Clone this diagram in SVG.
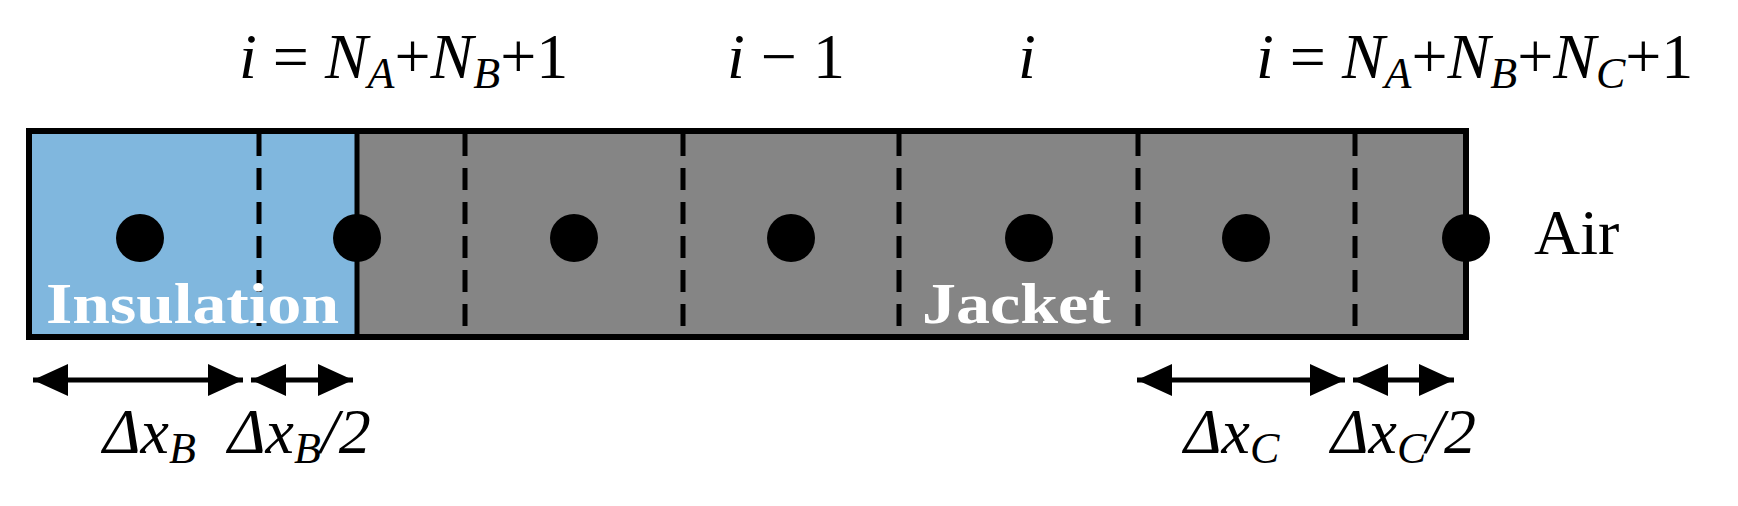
<svg xmlns="http://www.w3.org/2000/svg" width="1738" height="506" viewBox="0 0 1738 506">
<style>
text{font-family:"Liberation Serif","Times New Roman",Times,serif}
.t{font-size:64px;fill:#000}
.it{font-style:italic}
.sub{font-size:44px;font-style:italic}
.lbl{font-weight:bold;font-size:56px;fill:#fff}
.dash{stroke:#000;stroke-width:5;stroke-dasharray:22,12}
.ar{stroke:#000;stroke-width:5;fill:none}
</style>
<defs>
<marker id="ah" markerWidth="8" markerHeight="8" refX="7" refY="4" orient="auto-start-reverse" markerUnits="strokeWidth">
<path d="M0,0.8 L7,4 L0,7.2 Z" fill="#000"/>
</marker>
</defs>
<g id="insulation"><rect x="29" y="131" width="328" height="206" fill="#80b7de"/></g>
<g id="jacket"><rect x="357" y="131" width="1109" height="206" fill="#858585"/></g>
<g id="grid">
<line class="dash" x1="259" y1="134" x2="259" y2="334"/>
<line class="dash" x1="465" y1="134" x2="465" y2="334"/>
<line class="dash" x1="683" y1="134" x2="683" y2="334"/>
<line class="dash" x1="899" y1="134" x2="899" y2="334"/>
<line class="dash" x1="1138" y1="134" x2="1138" y2="334"/>
<line class="dash" x1="1355" y1="134" x2="1355" y2="334"/>
<rect x="29" y="131" width="1437" height="206" fill="none" stroke="#000" stroke-width="6"/>
<line x1="357" y1="131" x2="357" y2="337" stroke="#000" stroke-width="5"/>
</g>
<g id="nodes" fill="#000">
<circle cx="140" cy="238" r="24"/><circle cx="357" cy="238" r="24"/><circle cx="574" cy="238" r="24"/>
<circle cx="791" cy="238" r="24"/><circle cx="1029" cy="238" r="24"/><circle cx="1246" cy="238" r="24"/><circle cx="1466" cy="238" r="24"/>
</g>
<g id="labels">
<text class="lbl" x="46" y="323" textLength="293" lengthAdjust="spacingAndGlyphs">Insulation</text>
<text class="lbl" x="922" y="323" textLength="189" lengthAdjust="spacingAndGlyphs">Jacket</text>
<text class="t" x="1534" y="254">Air</text>
<text class="t" x="239" y="78"><tspan class="it">i</tspan> = <tspan class="it">N</tspan><tspan class="sub" dy="10">A</tspan><tspan dy="-10">+</tspan><tspan class="it">N</tspan><tspan class="sub" dy="10">B</tspan><tspan dy="-10">+1</tspan></text>
<text class="t" x="727" y="78"><tspan class="it">i</tspan> −  1</text>
<text class="t it" x="1018" y="78">i</text>
<text class="t" x="1256" y="78"><tspan class="it">i</tspan> = <tspan class="it">N</tspan><tspan class="sub" dy="10">A</tspan><tspan dy="-10">+</tspan><tspan class="it">N</tspan><tspan class="sub" dy="10">B</tspan><tspan dy="-10">+</tspan><tspan class="it">N</tspan><tspan class="sub" dy="10">C</tspan><tspan dy="-10">+1</tspan></text>
<text class="t it" x="103" y="453">Δx<tspan class="sub" dy="10">B</tspan></text>
<text class="t it" x="228" y="453">Δx<tspan class="sub" dy="10">B</tspan><tspan dy="-10">/2</tspan></text>
<text class="t it" x="1184" y="453">Δx<tspan class="sub" dy="10">C</tspan></text>
<text class="t it" x="1331" y="453">Δx<tspan class="sub" dy="10">C</tspan><tspan dy="-10">/2</tspan></text>
</g>
<g id="connectors">
<line class="ar" x1="33" y1="380" x2="243" y2="380" marker-start="url(#ah)" marker-end="url(#ah)"/>
<line class="ar" x1="251" y1="380" x2="353" y2="380" marker-start="url(#ah)" marker-end="url(#ah)"/>
<line class="ar" x1="1137" y1="380" x2="1345" y2="380" marker-start="url(#ah)" marker-end="url(#ah)"/>
<line class="ar" x1="1353" y1="380" x2="1454" y2="380" marker-start="url(#ah)" marker-end="url(#ah)"/>
</g>
</svg>
